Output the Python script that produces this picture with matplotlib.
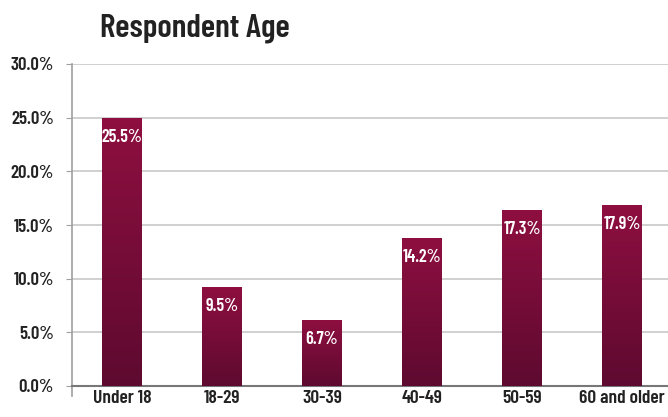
import numpy as np
import matplotlib.pyplot as plt
from matplotlib.colors import LinearSegmentedColormap

categories = ["Under 18", "18-29", "30-39", "40-49", "50-59", "60 and older"]
# bar heights as drawn in the picture (percent)
bar_values = [25.0, 9.25, 6.15, 13.8, 16.4, 16.9]
# value labels as printed on the bars
value_labels = ["25.5%", "9.5%", "6.7%", "14.2%", "17.3%", "17.9%"]
y_ticks = [0, 5, 10, 15, 20, 25, 30]

plt.rcParams['font.family'] = ['Barlow Condensed', 'DejaVu Sans']

fig = plt.figure(figsize=(6.68, 4.17), dpi=100)
ax = fig.add_axes([72 / 668, 31 / 417, 600 / 668, 322 / 417])

x = np.arange(len(categories))
bars = ax.bar(x, bar_values, width=0.4, color="none", edgecolor="none", zorder=3)

cmap = LinearSegmentedColormap.from_list("wine", ["#5e0a30", "#8e0f40"])
grad = np.linspace(0, 1, 256).reshape(-1, 1)
for b in bars:
    x0, y0 = b.get_x(), b.get_y()
    w, h = b.get_width(), b.get_height()
    im = ax.imshow(grad, extent=[x0, x0 + w, y0, y0 + h], origin="lower",
                   cmap=cmap, aspect="auto", zorder=3)
    im.set_clip_path(b)

for xi, v, lab in zip(x, bar_values, value_labels):
    ax.text(xi, v - 1.85, lab, ha="center", va="center", color="white",
            fontsize=13, fontweight="semibold", zorder=4)

ax.set_xlim(-0.5, 5.5)
ax.set_ylim(0, 30)
ax.set_yticks(y_ticks)
ax.set_yticklabels([f"{t:.1f}%" for t in y_ticks])
ax.set_xticks(x)
ax.set_xticklabels(categories)
ax.grid(axis="y", color="#c8c8c8", linewidth=1.2, zorder=0)
ax.set_axisbelow(True)

for s in ["top", "right"]:
    ax.spines[s].set_visible(False)
ax.spines["left"].set_color("#a0a0a0")
ax.spines["left"].set_linewidth(1.2)
ax.spines["bottom"].set_color("#777777")
ax.spines["bottom"].set_linewidth(1.5)
ax.plot([-0.5, -0.5], [0, -0.9], color="#a0a0a0", lw=1.2, clip_on=False)

ax.tick_params(axis="y", length=4, color="#a0a0a0", labelsize=13.5,
               labelcolor="#222222", pad=9)
ax.tick_params(axis="x", length=0, labelsize=14, labelcolor="#222222", pad=3)
for lab in ax.get_xticklabels() + ax.get_yticklabels():
    lab.set_fontweight("semibold")

fig.text(100 / 668, 1 - 28 / 417, "Respondent Age", fontsize=24,
         fontweight="semibold", color="#222222", va="center", ha="left")

fig.savefig("out.png", dpi=100)
